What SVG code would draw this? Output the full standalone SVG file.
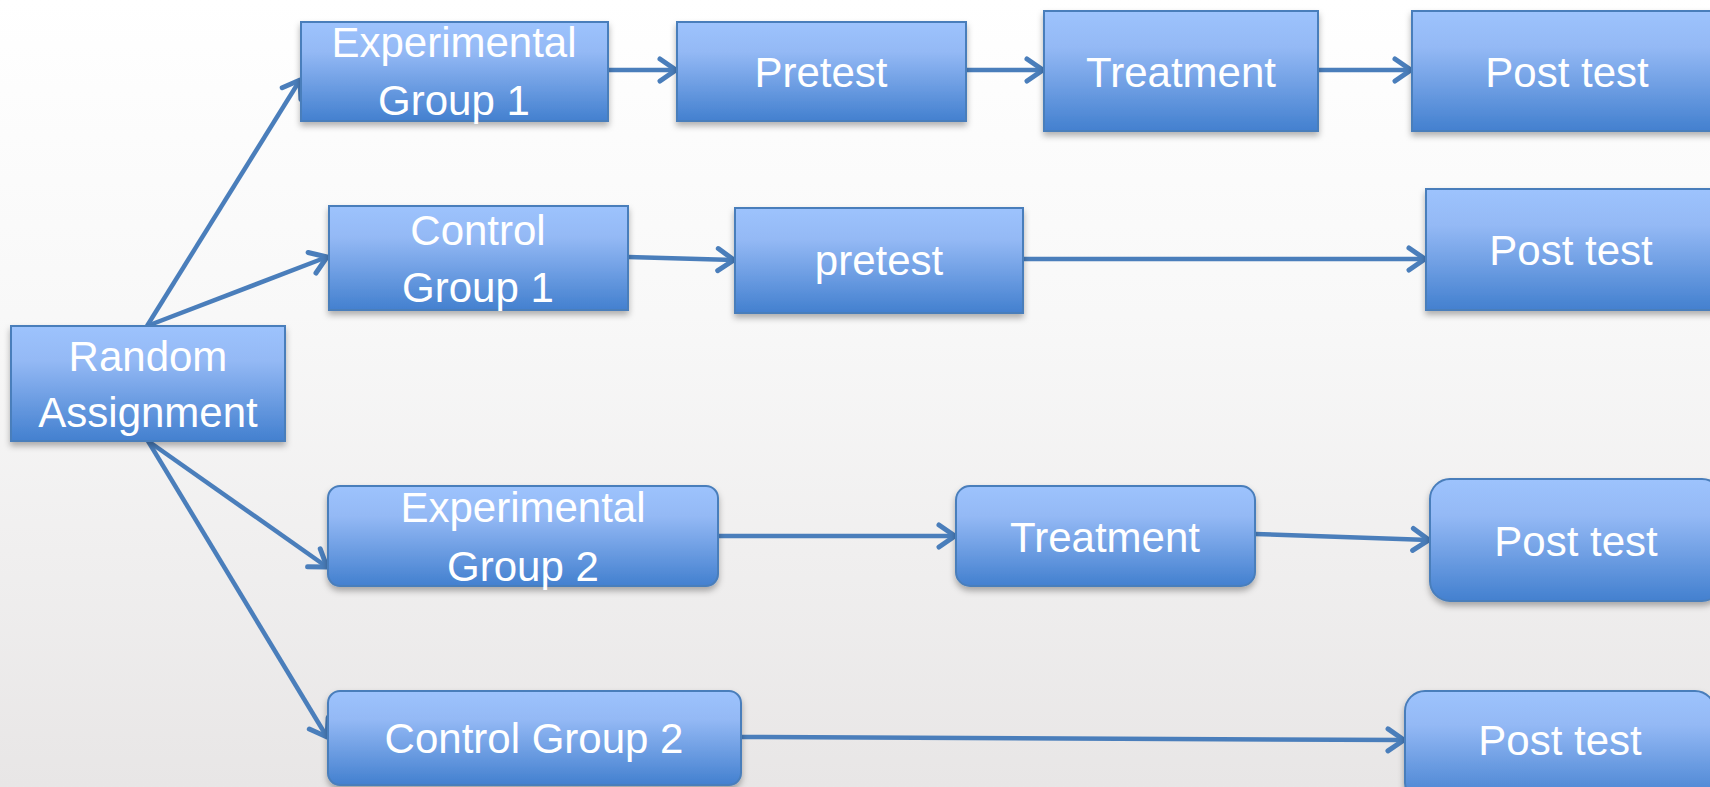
<svg xmlns="http://www.w3.org/2000/svg" width="1710" height="787" viewBox="0 0 1710 787">
<defs>
<linearGradient id="bg" x1="0" y1="0" x2="0" y2="1">
<stop offset="0" stop-color="#ffffff"/>
<stop offset="0.4" stop-color="#f8f8f8"/>
<stop offset="1" stop-color="#e8e6e6"/>
</linearGradient>
<linearGradient id="box" x1="0" y1="0" x2="0" y2="1">
<stop offset="0" stop-color="#9dc3fd"/>
<stop offset="0.3" stop-color="#94b9f5"/>
<stop offset="1" stop-color="#4380cf"/>
</linearGradient>
<filter id="sh" x="-10%" y="-10%" width="120%" height="130%">
<feDropShadow dx="0" dy="4" stdDeviation="3" flood-color="#000" flood-opacity="0.3"/>
</filter>
<marker id="ah" markerUnits="userSpaceOnUse" viewBox="0 0 24 28" markerWidth="24" markerHeight="28" refX="20" refY="14" orient="auto">
<path d="M4,3 L20,14 L4,25" fill="none" stroke="#4a7ebb" stroke-width="5" stroke-linecap="round" stroke-linejoin="round"/>
</marker>
<style>
.n rect{fill:url(#box);stroke:#4a7ebb;stroke-width:2;filter:url(#sh)}
.n text{fill:#fff;font-family:"Liberation Sans",Arial,sans-serif;font-size:42px;text-anchor:middle}
.c line{stroke:#4a7ebb;stroke-width:4.5;marker-end:url(#ah)}
</style>
</defs>
<rect x="0" y="0" width="1710" height="787" fill="url(#bg)"/>
<g id="connectors" class="c">
<line x1="608" y1="70" x2="676" y2="70"/>
<line x1="966" y1="70" x2="1043" y2="70"/>
<line x1="1318" y1="70" x2="1411" y2="70"/>
<line x1="628" y1="257" x2="734" y2="260"/>
<line x1="1023" y1="259" x2="1425" y2="259"/>
<line x1="718" y1="536" x2="955" y2="536"/>
<line x1="1255" y1="534" x2="1429" y2="540"/>
<line x1="741" y1="737" x2="1404" y2="740"/>
<line x1="147" y1="326" x2="300" y2="80"/>
<line x1="147" y1="326" x2="327" y2="257"/>
<line x1="148" y1="441" x2="327" y2="567"/>
<line x1="148" y1="441" x2="327" y2="737"/>
</g>
<g id="random" class="n"><rect x="11" y="326" width="274" height="115"/><text x="148" y="371">Random</text><text x="148" y="427">Assignment</text></g>
<g id="exp1" class="n"><rect x="301" y="22" width="307" height="99"/><text x="454" y="57">Experimental</text><text x="454" y="115">Group 1</text></g>
<g id="ctl1" class="n"><rect x="329" y="206" width="299" height="104"/><text x="478" y="245">Control</text><text x="478" y="302">Group 1</text></g>
<g id="pretest1" class="n"><rect x="677" y="22" width="289" height="99"/><text x="821" y="87">Pretest</text></g>
<g id="treatment1" class="n"><rect x="1044" y="11" width="274" height="120"/><text x="1181" y="87">Treatment</text></g>
<g id="post1" class="n"><rect x="1412" y="11" width="310" height="120"/><text x="1567" y="87">Post test</text></g>
<g id="pretest2" class="n"><rect x="735" y="208" width="288" height="105"/><text x="879" y="275">pretest</text></g>
<g id="post2" class="n"><rect x="1426" y="189" width="292" height="121"/><text x="1571" y="265">Post test</text></g>
<g id="exp2" class="n"><rect x="328" y="486" width="390" height="100" rx="12"/><text x="523" y="522">Experimental</text><text x="523" y="581">Group 2</text></g>
<g id="treatment2" class="n"><rect x="956" y="486" width="299" height="100" rx="14"/><text x="1105" y="552">Treatment</text></g>
<g id="post3" class="n"><rect x="1430" y="479" width="292" height="122" rx="20"/><text x="1576" y="556">Post test</text></g>
<g id="ctl2" class="n"><rect x="328" y="691" width="413" height="94" rx="12"/><text x="534" y="753">Control Group 2</text></g>
<g id="post4" class="n"><rect x="1405" y="691" width="310" height="112" rx="20"/><text x="1560" y="755">Post test</text></g>
</svg>
